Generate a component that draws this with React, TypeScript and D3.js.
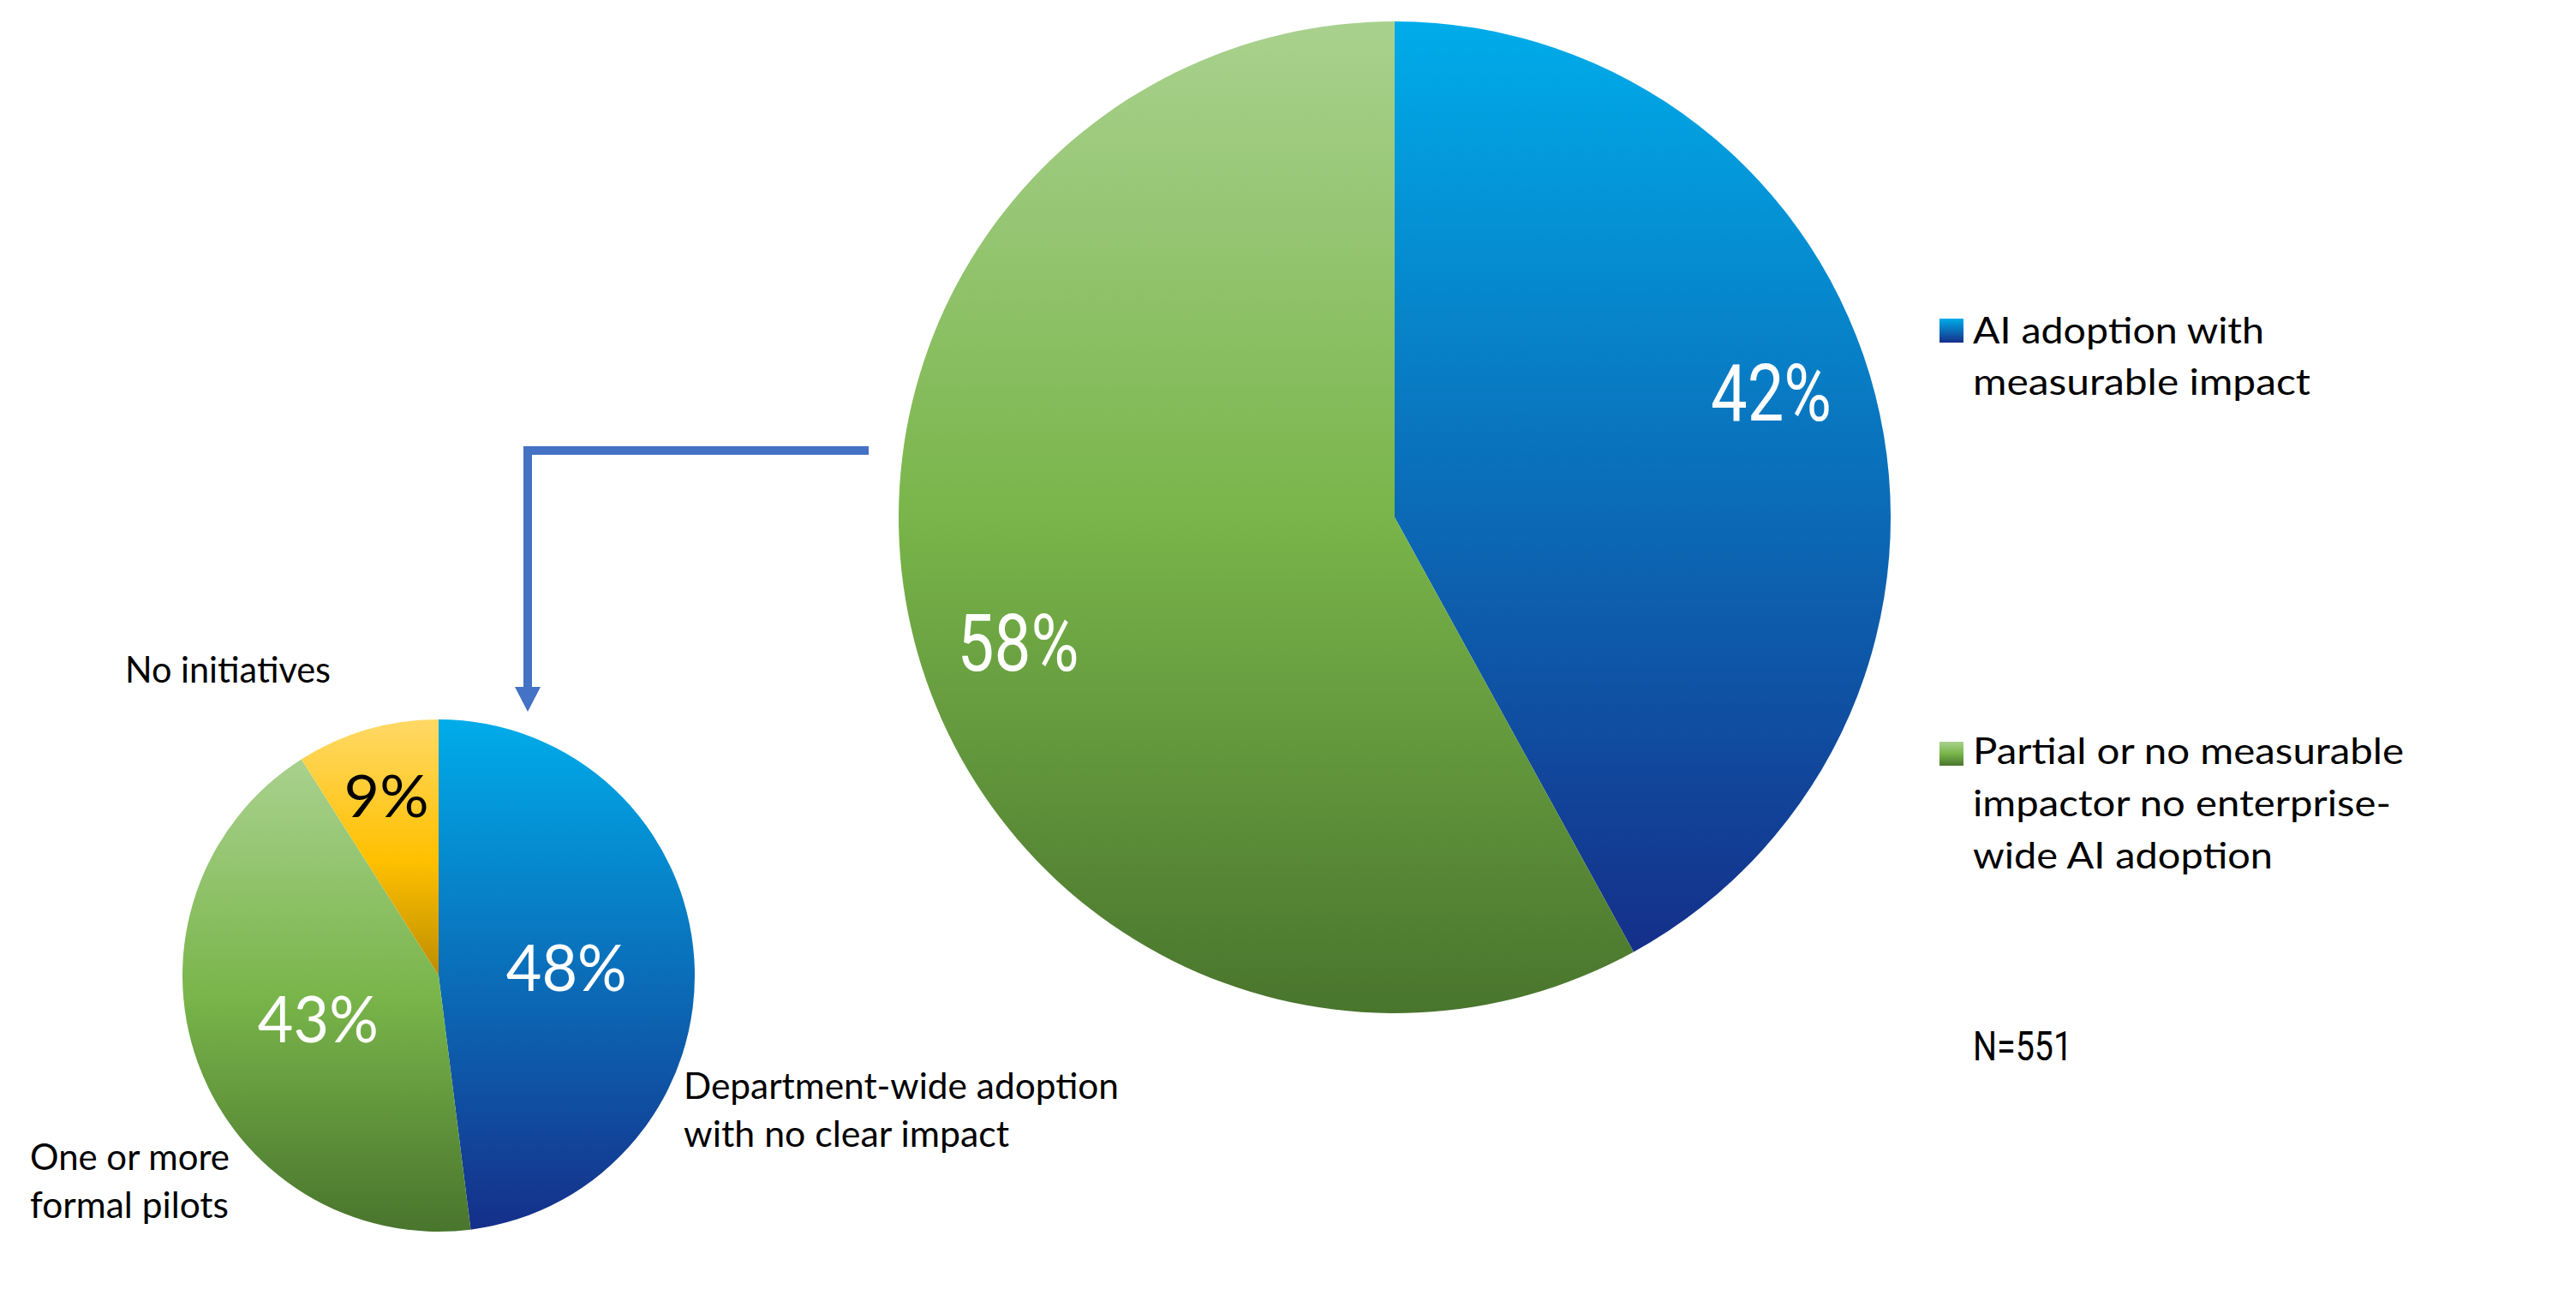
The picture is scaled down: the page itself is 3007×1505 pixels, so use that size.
import React, { useEffect } from "react";
import * as d3 from "d3";

// ---------- data ----------
const bigCategories = [
  "AI adoption with measurable impact",
  "Partial or no measurable impactor no enterprise-wide AI adoption",
];
const bigValues = [42, 58];
const bigLegendLines = [
  ["AI adoption with", "measurable impact"],
  ["Partial or no measurable", "impactor no enterprise-", "wide AI adoption"],
];

const smallCategories = [
  "Department-wide adoption with no clear impact",
  "One or more formal pilots",
  "No initiatives",
];
const smallValues = [48, 43, 9];
const smallAnnotationLines = [
  ["Department-wide adoption", "with no clear impact"],
  ["One or more", "formal pilots"],
  ["No initiatives"],
];
const sampleNote = "N=551";

// ---------- layout / style ----------
const W = 3007;
const H = 1505;
const BIG = { cx: 1628, cy: 604, r: 579, labelR: 0.8, labelAngleShift: -0.07 };
const SMALL = { cx: 512, cy: 1139, r: 299 };
const smallLabelR = [0.5, 0.5, 0.73];

const gradients: Record<string, { o: number; c: string }[]> = {
  blue: [
    { o: 0, c: "#00ACE9" },
    { o: 1, c: "#152F89" },
  ],
  green: [
    { o: 0, c: "#A9D18E" },
    { o: 0.5, c: "#79B54A" },
    { o: 1, c: "#49752D" },
  ],
  yellow: [
    { o: 0, c: "#FFD966" },
    { o: 0.55, c: "#FFC000" },
    { o: 1, c: "#BC8D00" },
  ],
};
const bigFills = ["blue", "green"];
const smallFills = ["blue", "green", "yellow"];

const bigLabelStyle = { font: "Roboto", size: 93, widths: [141, 142], colors: ["#fff", "#fff"] };
const smallLabelStyle = {
  font: "Lato",
  sizes: [75, 75, 67],
  widths: [141, 141, 99],
  colors: ["#fff", "#fff", "#000"],
};

const legendLayout = {
  squareX: 2264,
  textX: 2303,
  square: 28,
  squareTops: [372, 866],
  baselines: [
    [401, 461],
    [892, 953, 1014],
  ],
  widths: [
    [340, 394],
    [503, 488, 350],
  ],
};
const noteLayout = { x: 2303, y: 1238, width: 116, size: 48 };

const annotationLayout = [
  { x: 798, baselines: [1283, 1339], widths: [508, 380] },
  { x: 35, baselines: [1366, 1422], widths: [233, 232] },
  { x: 146, baselines: [797], widths: [240] },
];
const textFont = "Lato";
const textSize = 42;

const arrowColor = "#4472C4";

function pct(v: number) {
  return `${v}%`;
}

export default function App() {
  useEffect(() => {
    document.body.style.margin = "0";
    document.body.style.overflow = "hidden";
  }, []);

  const pie = d3
    .pie<number>()
    .sort(null)
    .value((d) => d)
    .startAngle(0)
    .endAngle(2 * Math.PI);

  const bigArcs = pie(bigValues);
  const smallArcs = pie(smallValues);

  const bigArc = d3.arc<d3.PieArcDatum<number>>().innerRadius(0).outerRadius(BIG.r);
  const smallArc = d3.arc<d3.PieArcDatum<number>>().innerRadius(0).outerRadius(SMALL.r);

  const polar = (cx: number, cy: number, rad: number, a: number) => [
    cx + rad * Math.sin(a),
    cy - rad * Math.cos(a),
  ];

  const arrowPath = d3.path();
  arrowPath.moveTo(1014, 526);
  arrowPath.lineTo(616, 526);
  arrowPath.lineTo(616, 806);

  return (
    <svg
      width={W}
      height={H}
      viewBox={`0 0 ${W} ${H}`}
      style={{ position: "absolute", left: 0, top: 0, display: "block", background: "#fff" }}
    >
      <defs>
        {Object.entries(gradients).map(([k, stops]) => (
          <linearGradient key={k} id={`g-${k}`} x1="0" y1="0" x2="0" y2="1">
            {stops.map((s, i) => (
              <stop key={i} offset={s.o} stopColor={s.c} />
            ))}
          </linearGradient>
        ))}
      </defs>
      <rect x={0} y={0} width={W} height={H} fill="#fff" />

      {/* big pie */}
      <g transform={`translate(${BIG.cx},${BIG.cy})`}>
        {bigArcs.map((a, i) => (
          <path key={bigCategories[i]} d={bigArc(a) || ""} fill={`url(#g-${bigFills[i]})`} />
        ))}
      </g>
      {bigArcs.map((a, i) => {
        const mid = (a.startAngle + a.endAngle) / 2 + BIG.labelAngleShift;
        const [x, y] = polar(BIG.cx, BIG.cy, BIG.r * BIG.labelR, mid);
        return (
          <text
            key={`bl-${i}`}
            x={x}
            y={y}
            dy="0.355em"
            textAnchor="middle"
            fontFamily={bigLabelStyle.font}
            fontSize={bigLabelStyle.size}
            fill={bigLabelStyle.colors[i]}
            textLength={bigLabelStyle.widths[i]}
            lengthAdjust="spacingAndGlyphs"
          >
            {pct(bigValues[i])}
          </text>
        );
      })}

      {/* small pie */}
      <g transform={`translate(${SMALL.cx},${SMALL.cy})`}>
        {smallArcs.map((a, i) => (
          <path key={smallCategories[i]} d={smallArc(a) || ""} fill={`url(#g-${smallFills[i]})`} />
        ))}
      </g>
      {smallArcs.map((a, i) => {
        const mid = (a.startAngle + a.endAngle) / 2;
        const [x, y] = polar(SMALL.cx, SMALL.cy, SMALL.r * smallLabelR[i], mid);
        return (
          <text
            key={`sl-${i}`}
            x={x}
            y={y}
            dy="0.36em"
            textAnchor="middle"
            fontFamily={smallLabelStyle.font}
            fontSize={smallLabelStyle.sizes[i]}
            fill={smallLabelStyle.colors[i]}
            textLength={smallLabelStyle.widths[i]}
            lengthAdjust="spacingAndGlyphs"
          >
            {pct(smallValues[i])}
          </text>
        );
      })}

      {/* connector arrow */}
      <path d={arrowPath.toString()} fill="none" stroke={arrowColor} strokeWidth={10} strokeLinejoin="miter" />
      <path d="M601,802 L631,802 L616,831 Z" fill={arrowColor} />

      {/* legend */}
      {bigLegendLines.map((lines, i) => (
        <g key={`lg-${i}`}>
          <rect
            x={legendLayout.squareX}
            y={legendLayout.squareTops[i]}
            width={legendLayout.square}
            height={legendLayout.square}
            fill={`url(#g-${bigFills[i]})`}
          />
          {lines.map((ln, j) => (
            <text
              key={j}
              x={legendLayout.textX}
              y={legendLayout.baselines[i][j]}
              fontFamily={textFont}
              fontSize={textSize}
              fill="#000"
              textLength={legendLayout.widths[i][j]}
              lengthAdjust="spacingAndGlyphs"
            >
              {ln}
            </text>
          ))}
        </g>
      ))}
      <text
        x={noteLayout.x}
        y={noteLayout.y}
        fontFamily="Roboto"
        fontSize={noteLayout.size}
        fill="#000"
        textLength={noteLayout.width}
        lengthAdjust="spacingAndGlyphs"
      >
        {sampleNote}
      </text>

      {/* small pie annotations */}
      {smallAnnotationLines.map((lines, i) =>
        lines.map((ln, j) => (
          <text
            key={`an-${i}-${j}`}
            x={annotationLayout[i].x}
            y={annotationLayout[i].baselines[j]}
            fontFamily={textFont}
            fontSize={textSize}
            fill="#000"
            textLength={annotationLayout[i].widths[j]}
            lengthAdjust="spacingAndGlyphs"
          >
            {ln}
          </text>
        ))
      )}
    </svg>
  );
}
